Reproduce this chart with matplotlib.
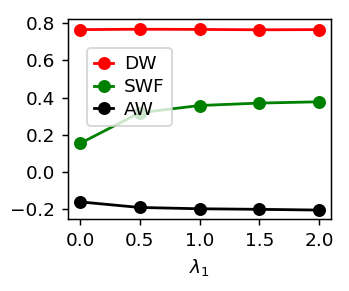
import matplotlib
matplotlib.use("Agg")
from matplotlib import pyplot as plt

# lambda_1 values and scores for each method
lam = [0.0, 0.5, 1.0, 1.5, 2.0]
dw = [0.766, 0.768, 0.767, 0.765, 0.766]
swf = [0.154, 0.319, 0.358, 0.371, 0.378]
aw = [-0.160, -0.190, -0.197, -0.200, -0.204]
yticks = [-0.2, 0.0, 0.2, 0.4, 0.6, 0.8]

dpi = 400 / 3
fig = plt.figure(figsize=(349 / dpi, 291 / dpi), dpi=dpi)
ax = fig.add_subplot(111)
fig.subplots_adjust(left=68 / 349, right=331 / 349, top=1 - 19 / 291, bottom=1 - 219 / 291)

ax.plot(lam, dw, "o-", color="red", label="DW")
ax.plot(lam, swf, "o-", color="green", label="SWF")
ax.plot(lam, aw, "o-", color="black", label="AW")

ax.set_xticks(lam)
ax.set_yticks(yticks)
ax.set_ylim(-0.252, 0.823)
ax.set_xlabel(r"$\lambda_1$")

ax.legend(loc="upper left", bbox_to_anchor=(0.072, 0.855), borderaxespad=0,
          handlelength=1.0, handletextpad=0.6, labelspacing=0.25)

plt.savefig("out.png", dpi=dpi)
